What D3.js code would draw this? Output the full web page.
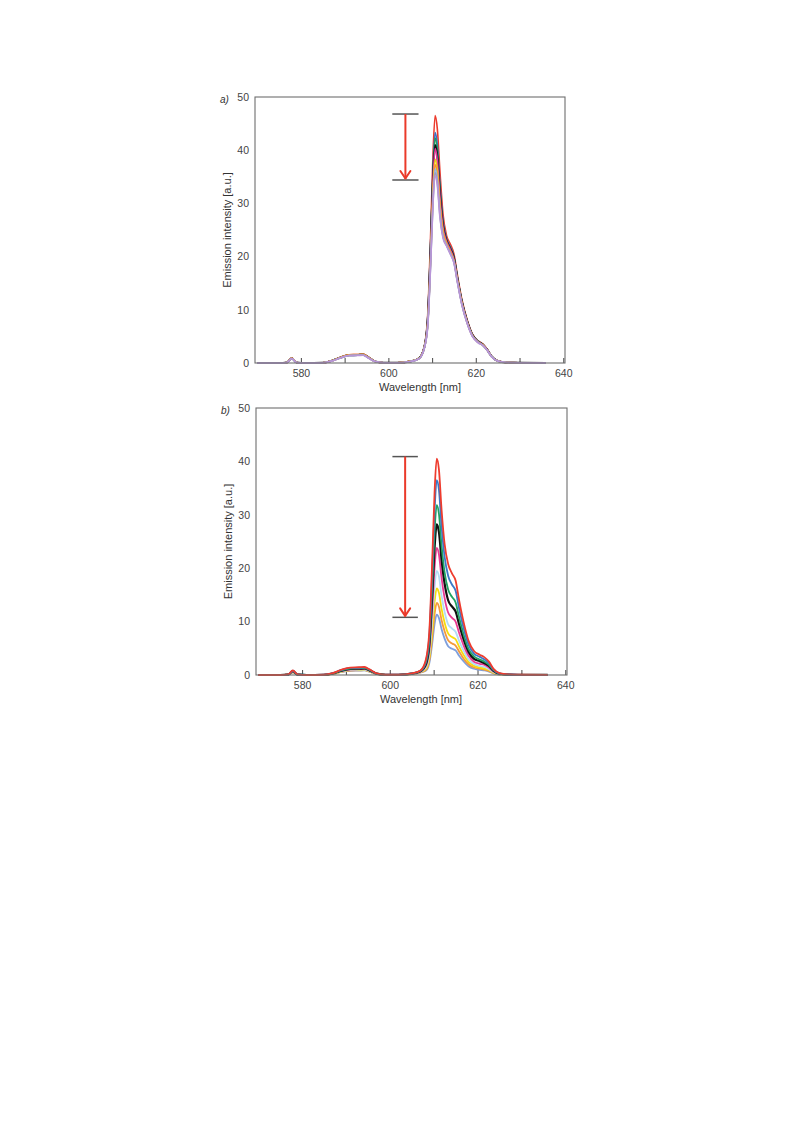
<!DOCTYPE html>
<html><head><meta charset="utf-8">
<script src="https://cdn.jsdelivr.net/npm/d3@7"></script>
<style>body{margin:0;background:#fff}svg{display:block}text{font-family:"Liberation Sans",Arial,sans-serif}</style>
</head><body>
<svg id="c" width="793" height="1121"></svg>
<script>
// Wavelength grid (nm), shared by all spectra
const wavelength = [570,575,576.8,577.9,579,581,585,587,589,591,593,594.2,595.5,597,599,602,605,607,608.2,609,609.7,610.2,610.7,611.2,611.8,612.5,613.3,614.2,615,615.8,616.8,618,619.2,620.5,621.6,622.6,623.6,625,627,630,636];

// Panel a series
const aRed     = [0,0,0.1,1.0,0.1,0,0.05,0.4,1.1,1.55,1.6,1.7,1.1,0.3,0.05,0.05,0.3,0.9,3.0, 9,25,39,46.5,44,36,28, 24,22.3,20.5,16.5,12,8.2,5.5,4.2,3.6,2.6,1.3,0.4, 0.1,0.05,0.02];
const aBlue    = [0,0,0.1,0.95,0.1,0,0.05,0.4,1.05,1.5,1.55,1.65,1.05,0.3,0.05,0.05,0.3,0.9,2.9, 8.4,23.3,36.3,43.3,41.0,33.5,26.7, 23.4,21.8,20.0,16.1,11.7,8.0,5.4,4.1,3.5,2.5,1.27,0.39, 0.1,0.05,0.02];
const aGreen   = [0,0,0.1,0.95,0.1,0,0.05,0.4,1.05,1.5,1.55,1.6,1.05,0.3,0.05,0.05,0.3,0.9,2.9, 8.2,22.8,35.5,42.3,40.0,32.8,26.3, 23.2,21.6,19.9,16.0,11.6,7.9,5.3,4.1,3.5,2.5,1.26,0.39, 0.1,0.05,0.02];
const aBlack   = [0,0,0.1,0.9,0.1,0,0.05,0.4,1.0,1.45,1.5,1.6,1.0,0.3,0.05,0.05,0.3,0.85,2.85, 7.9,22.0,34.4,41.0,38.8,31.8,25.8, 23.0,21.4,19.7,15.8,11.5,7.9,5.3,4.0,3.45,2.5,1.25,0.38, 0.1,0.05,0.02];
const aMagenta = [0,0,0.1,0.9,0.1,0,0.05,0.4,1.0,1.45,1.5,1.55,1.0,0.3,0.05,0.05,0.3,0.85,2.85, 7.8,21.7,33.8,40.3,38.1,31.2,25.5, 22.9,21.3,19.5,15.7,11.4,7.8,5.2,4.0,3.4,2.5,1.24,0.38, 0.1,0.05,0.02];
const aYellow  = [0,0,0.1,0.9,0.1,0,0.05,0.38,1.0,1.45,1.5,1.55,1.0,0.28,0.05,0.05,0.3,0.85,2.8, 7.4,20.6,32.1,38.3,36.3,29.7,24.7, 22.5,20.9,19.2,15.5,11.3,7.7,5.2,3.9,3.4,2.4,1.22,0.38, 0.1,0.05,0.02];
const aOrange  = [0,0,0.1,0.95,0.1,0,0.05,0.4,1.05,1.55,1.6,1.7,1.05,0.3,0.05,0.05,0.3,0.85,2.8, 7.2,20.1,31.3,37.3,35.3,28.9,24.3, 22.3,20.8,19.1,15.4,11.2,7.6,5.1,3.9,3.35,2.4,1.21,0.37, 0.1,0.05,0.02];
const aLtBlue  = [0,0,0.1,0.85,0.1,0,0.05,0.36,0.95,1.4,1.45,1.5,0.95,0.28,0.05,0.05,0.28,0.8,2.75, 7.1,19.6,30.6,36.5,34.5,28.3,23.9, 22.2,20.6,19.0,15.3,11.1,7.6,5.1,3.9,3.3,2.4,1.2,0.37, 0.1,0.05,0.02];
const aGrey    = [0,0,0.1,0.85,0.1,0,0.05,0.36,0.95,1.4,1.45,1.5,0.95,0.28,0.05,0.05,0.28,0.8,2.75, 6.9,19.3,30.0,35.8,33.9,27.7,23.7, 22.1,20.5,18.9,15.2,11.0,7.5,5.1,3.9,3.3,2.4,1.2,0.37, 0.1,0.05,0.02];
const aPurple  = [0,0,0.1,0.85,0.1,0,0.05,0.35,0.95,1.4,1.4,1.45,0.9,0.27,0.05,0.05,0.28,0.8,2.7, 6.8,19.0,29.6,35.3,33.4,27.3,23.5, 22.0,20.4,18.8,15.1,11.0,7.5,5.0,3.8,3.3,2.4,1.19,0.37, 0.1,0.05,0.02];

// Panel b series
const bRed     = [0,0,0.1,0.85,0.1,0,0.05,0.35,1.0,1.4,1.45,1.5,1.0,0.3,0.05,0.05,0.3,0.85,2.8, 8,22,34,40.5,38.5,31,24.5, 20.8,19,17.7,14,10,6.3,4.5,3.8,3.3,2.5,1.2,0.35, 0.1,0.05,0.02];
const bBlue    = [0,0,0.09,0.8,0.09,0,0.05,0.33,0.94,1.32,1.36,1.41,0.94,0.28,0.05,0.05,0.28,0.8,2.5, 7.2,19.8,30.6,36.5,34.7,27.9,22.1, 18.6,16.9,15.8,12.5,8.9,5.6,4.0,3.4,2.9,2.2,1.07,0.31, 0.09,0.04,0.02];
const bGreen   = [0,0,0.09,0.74,0.09,0,0.04,0.3,0.87,1.22,1.26,1.31,0.87,0.26,0.04,0.04,0.26,0.74,2.2, 6.3,17.3,26.7,31.8,30.2,24.3,19.2, 16.0,14.6,13.6,10.8,7.7,4.8,3.5,2.9,2.5,1.9,0.92,0.27, 0.08,0.04,0.02];
const bBlack   = [0,0,0.08,0.7,0.08,0,0.04,0.29,0.82,1.15,1.19,1.23,0.82,0.25,0.04,0.04,0.25,0.7,1.95, 5.6,15.3,23.7,28.2,26.8,21.6,17.1, 14.0,12.8,11.9,9.5,6.75,4.25,3.0,2.6,2.2,1.7,0.81,0.24, 0.07,0.03,0.01];
const bMagenta = [0,0,0.08,0.64,0.08,0,0.04,0.26,0.75,1.05,1.09,1.13,0.75,0.23,0.04,0.04,0.23,0.64,1.65, 4.7,12.9,20.0,23.8,22.6,18.2,14.4, 11.7,10.7,10.0,7.9,5.6,3.55,2.5,2.1,1.9,1.4,0.68,0.2, 0.06,0.03,0.01];
const bLtBlue  = [0,0,0.07,0.59,0.07,0,0.03,0.24,0.69,0.96,1.0,1.03,0.69,0.21,0.03,0.03,0.21,0.59,1.35, 3.8,10.6,16.4,19.5,18.5,14.9,11.8, 9.5,8.7,8.1,6.4,4.6,2.9,2.05,1.7,1.5,1.1,0.55,0.16, 0.05,0.02,0.01];
const bYellow  = [0,0,0.06,0.54,0.06,0,0.03,0.22,0.64,0.9,0.93,0.96,0.64,0.19,0.03,0.03,0.19,0.54,1.12, 3.2,8.8,13.6,16.2,15.4,12.4,9.8, 7.8,7.1,6.7,5.3,3.8,2.4,1.7,1.4,1.2,0.94,0.45,0.13, 0.04,0.02,0.01];
const bOrange  = [0,0,0.06,0.51,0.06,0,0.03,0.21,0.6,0.84,0.87,0.9,0.6,0.18,0.03,0.03,0.18,0.51,0.93, 2.7,7.3,11.3,13.5,12.8,10.3,8.2, 6.5,5.9,5.5,4.4,3.1,1.96,1.4,1.18,1.03,0.78,0.37,0.11, 0.03,0.02,0.01];
const bCornflower = [0,0,0.06,0.48,0.06,0,0.03,0.2,0.57,0.79,0.82,0.85,0.57,0.17,0.03,0.03,0.17,0.48,0.78, 2.2,6.1,9.5,11.3,10.7,8.6,6.8, 5.4,4.9,4.6,3.6,2.6,1.6,1.17,0.98,0.85,0.65,0.31,0.09, 0.03,0.01,0.01];

// Colours (drawn in listed order; last on top)
const aSeries = [aRed,aBlue,aGreen,aBlack,aMagenta,aYellow,aOrange,aLtBlue,aGrey,aPurple];
const aColors = ["#ec3a2c","#3a70c6","#1f9c5e","#111111","#e2399a","#f2cf16","#f39437","#8fbbe8","#9c9cbc","#b995d8"];
const bSeries = [bCornflower,bOrange,bYellow,bLtBlue,bMagenta,bBlack,bGreen,bBlue,bRed];
const bColors = ["#7f9fdc","#f59a3c","#f7dc10","#b2dcf5","#ea3a92","#111111","#22a262","#3b78c8","#ee3c2e"];

// Tick labels and annotation (data units): [x1, x2, yTop, yBottom, arrowX]
const xTicks = [580,590,600,610,620,630,640];
const yTicks = [0,10,20,30,40,50];
const aAnnot = [600.9,606.9,46.8,34.4,603.9];
const bAnnot = [600.6,606.4,40.9,10.8,603.5];

const svg = d3.select("#c");

function panel(left, top, w, h, series, colors, annot, label, lw) {
  const g = svg.append("g").attr("transform",`translate(${left},${top})`);
  const x = d3.scaleLinear().domain([569.5,640.4]).range([0,w]);
  const y = d3.scaleLinear().domain([0,50]).range([h,0]);

  const xa = g.append("g").attr("transform",`translate(0,${h})`)
    .call(d3.axisBottom(x).tickValues(xTicks).tickFormat(d => d%20===0 ? d : "").tickSize(-5).tickPadding(7));
  xa.select(".domain").remove();
  xa.selectAll("line").attr("stroke","#555").attr("stroke-width",1.1);
  xa.selectAll("text").attr("font-size",10.5).attr("fill","#444");

  const ya = g.append("g")
    .call(d3.axisLeft(y).tickValues(yTicks).tickSize(0).tickPadding(6));
  ya.select(".domain").remove();
  ya.selectAll("text").attr("font-size",10.5).attr("fill","#444");

  const line = d3.line().x((d,i)=>x(wavelength[i])).y(d=>y(d)).curve(d3.curveMonotoneX);
  series.forEach((s,k)=>{
    g.append("path").attr("d",line(s)).attr("fill","none")
      .attr("stroke",colors[k]).attr("stroke-width", colors[k]==="#111111" ? lw+0.4 : lw)
      .attr("stroke-linejoin","round");
  });

  g.append("rect").attr("x",0).attr("y",0).attr("width",w).attr("height",h)
    .attr("fill","none").attr("stroke","#6e6e6e").attr("stroke-width",1.1);

  // annotation bars and arrow
  [annot[2],annot[3]].forEach(v=>{
    g.append("line").attr("x1",x(annot[0])).attr("x2",x(annot[1]))
      .attr("y1",y(v)).attr("y2",y(v)).attr("stroke","#555").attr("stroke-width",1.5);
  });
  const ax = x(annot[4]);
  g.append("line").attr("x1",ax).attr("x2",ax).attr("y1",y(annot[2])).attr("y2",y(annot[3])-1)
    .attr("stroke","#ea3a2a").attr("stroke-width",2);
  g.append("path").attr("d",`M${ax-5},${y(annot[3])-9}L${ax},${y(annot[3])-1.5}L${ax+5},${y(annot[3])-9}`)
    .attr("fill","none").attr("stroke","#ea3a2a").attr("stroke-width",2).attr("stroke-linecap","round").attr("stroke-linejoin","round");

  g.append("text").attr("x",165).attr("y",h+28).attr("text-anchor","middle")
    .attr("font-size",11).attr("fill","#333").text("Wavelength [nm]");
  g.append("text").attr("transform",`translate(${-24},${h/2}) rotate(-90)`).attr("text-anchor","middle")
    .attr("font-size",11).attr("fill","#333").text("Emission intensity [a.u.]");
  g.append("text").attr("x",-35).attr("y",6).attr("font-size",10).attr("font-style","italic")
    .attr("fill","#333").text(label);
}

panel(255, 97, 310, 266, aSeries, aColors, aAnnot, "a)", 1.6);
panel(256, 408, 311, 267, bSeries, bColors, bAnnot, "b)", 1.8);
</script>
</body></html>
